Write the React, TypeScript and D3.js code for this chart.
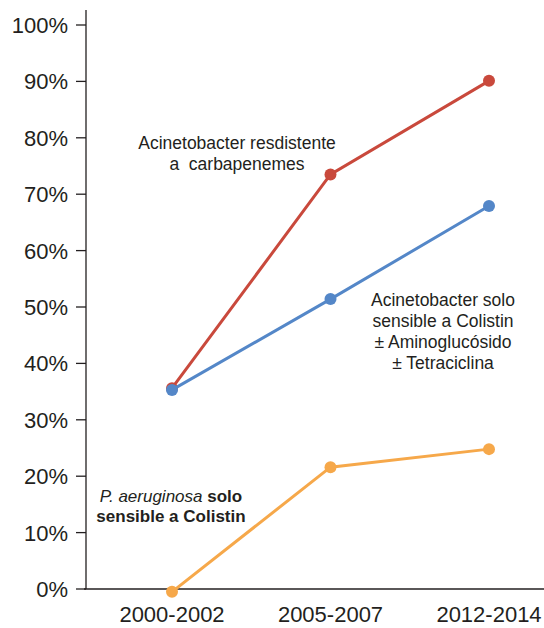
import { useEffect, useRef } from "react";
import * as d3 from "d3";

const periods = ["2000-2002", "2005-2007", "2012-2014"];
const carbapenemResistant = [35.6, 73.5, 90.1];
const colistinOnlyAcineto = [35.3, 51.4, 67.9];
const colistinOnlyPseudo = [-0.5, 21.6, 24.8];
const yTicks = [0, 10, 20, 30, 40, 50, 60, 70, 80, 90, 100];

const series = [
  { values: carbapenemResistant, color: "#C9493C" },
  { values: colistinOnlyAcineto, color: "#5487C8" },
  { values: colistinOnlyPseudo, color: "#F6A84A" },
];

const W = 544;
const H = 628;
const fontFace = "'Liberation Sans', Arial, sans-serif";
const textColor = "#231f20";

const App = () => {
  const svgRef = useRef<SVGSVGElement | null>(null);

  useEffect(() => {
    const svg = d3.select(svgRef.current);
    svg.selectAll("*").remove();

    const x = d3.scalePoint<string>().domain(periods).range([172, 489]);
    const y = d3.scaleLinear().domain([0, 100]).range([589, 25]);

    // y axis
    const yAxis = svg.append("g").attr("transform", "translate(86,0)");
    yAxis.append("line")
      .attr("x1", 0).attr("x2", 0).attr("y1", 10).attr("y2", 589)
      .attr("stroke", textColor).attr("stroke-width", 1.3);
    const yt = yAxis.selectAll("g.tick")
      .data(yTicks)
      .enter()
      .append("g")
      .attr("transform", d => `translate(0,${y(d)})`);
    yt.append("line")
      .attr("x1", -10).attr("x2", 0)
      .attr("stroke", textColor).attr("stroke-width", 1.3);
    yt.append("text")
      .attr("x", -18)
      .attr("dy", "0.36em")
      .attr("text-anchor", "end")
      .attr("fill", textColor)
      .style("font", `22px ${fontFace}`)
      .text(d => `${d}%`);

    // x axis
    svg.append("line")
      .attr("x1", 84).attr("x2", W).attr("y1", 589).attr("y2", 589)
      .attr("stroke", textColor).attr("stroke-width", 1.3);
    svg.append("g")
      .selectAll("text")
      .data(periods)
      .enter()
      .append("text")
      .attr("x", d => x(d) as number)
      .attr("y", 622)
      .attr("text-anchor", "middle")
      .attr("fill", textColor)
      .style("font", `22px ${fontFace}`)
      .text(d => d);

    const line = d3.line<number>()
      .x((_, i) => x(periods[i]) as number)
      .y(d => y(d));

    series.forEach(s => {
      const g = svg.append("g");
      g.append("path")
        .attr("d", line(s.values))
        .attr("fill", "none")
        .attr("stroke", s.color)
        .attr("stroke-width", 3);
      g.selectAll("circle")
        .data(s.values)
        .enter()
        .append("circle")
        .attr("cx", (_, i) => x(periods[i]) as number)
        .attr("cy", d => y(d))
        .attr("r", 6)
        .attr("fill", s.color);
    });

    const label = (cx: number, cy: number, lines: string[]) => {
      const t = svg.append("text")
        .attr("text-anchor", "middle")
        .attr("fill", textColor)
        .style("font", `17.5px ${fontFace}`);
      lines.forEach((l, i) => {
        t.append("tspan").attr("x", cx).attr("y", cy + i * 21).text(l);
      });
    };

    label(237, 149, ["Acinetobacter resdistente", "a\u00a0 carbapenemes"]);
    label(443, 306, ["Acinetobacter solo", "sensible a Colistin", "\u00b1 Aminoglucósido", "\u00b1 Tetraciclina"]);

    const p = svg.append("text")
      .attr("text-anchor", "middle")
      .attr("fill", textColor)
      .style("font", `17px ${fontFace}`);
    const p1 = p.append("tspan").attr("x", 171).attr("y", 502);
    p1.append("tspan").style("font-style", "italic").text("P. aeruginosa ");
    p1.append("tspan").style("font-weight", "bold").text("solo");
    p.append("tspan").attr("x", 171).attr("y", 522)
      .style("font-weight", "bold").text("sensible a Colistin");
  }, []);

  return (
    <svg
      ref={svgRef}
      width={W}
      height={H}
      style={{ position: "absolute", left: 0, top: 0, background: "#fff" }}
    ></svg>
  );
};

export default App;
